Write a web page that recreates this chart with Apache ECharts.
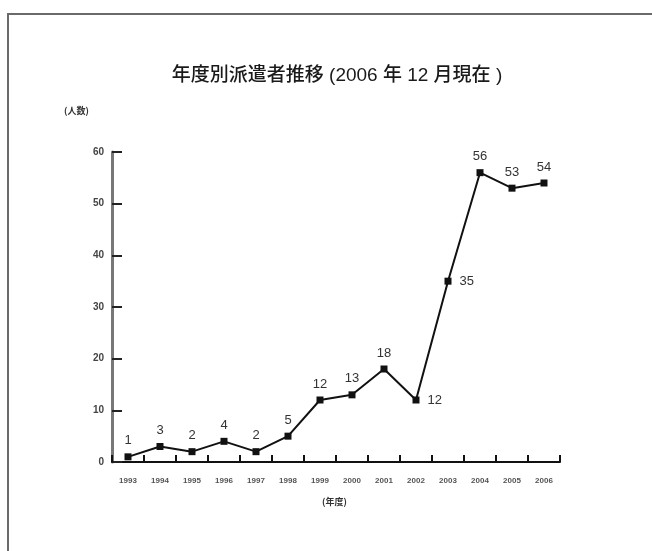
<!DOCTYPE html>
<html lang="ja">
<head>
    <meta charset="UTF-8">
    <title>年度別派遣者推移</title>
    <script src="https://cdn.jsdelivr.net/npm/echarts@6/dist/echarts.min.js"></script>
    <style>
        html, body { margin: 0; padding: 0; background: #fff; }
        #frame { position: absolute; left: 7px; top: 13px; width: 660px; height: 560px;
                 border-top: 2px solid #6a6a6a; border-left: 2px solid #6a6a6a; }
        #ChartId { position: absolute; left: 0; top: 0; width: 652px; height: 551px; }
    </style>
</head>
<body>
<div id="frame"></div>
<div id="ChartId"></div>
<script>
    // 年度
    var years = ['1993', '1994', '1995', '1996', '1997', '1998', '1999',
                 '2000', '2001', '2002', '2003', '2004', '2005', '2006'];
    // 派遣者数（人）
    var counts = [1, 3, 2, 4, 2, 5, 12, 13, 18, 12, 35, 56, 53, 54];
    // Y 軸目盛
    var yTicks = [0, 10, 20, 30, 40, 50, 60];

    var titleText = '年度別派遣者推移 (2006 年 12 月現在 )';
    var yName = '(人数)';
    var xName = '(年度)';

    // ラベルを右に出す年度
    var rightLabel = ['2002', '2003'];

    var jpFont = '"Noto Sans CJK JP", sans-serif';
    var mixFont = '"Liberation Sans", "Noto Sans CJK JP", sans-serif';

    var seriesData = counts.map(function (v, i) {
        var item = { value: v };
        if (rightLabel.indexOf(years[i]) >= 0) {
            item.label = { position: 'right', distance: 8 };
        }
        return item;
    });

    var myChart = echarts.init(document.getElementById('ChartId'));
    var option = {
        animation: false,
        backgroundColor: 'transparent',
        title: {
            text: titleText,
            left: 332,
            top: 61,
            textAlign: 'center',
            textStyle: { fontFamily: mixFont, fontSize: 19, fontWeight: 500, color: '#1a1a1a' }
        },
        graphic: [
            { type: 'text', left: 64, top: 106,
              style: { text: yName, fontFamily: jpFont, fontSize: 9, fontWeight: 'bold', fill: '#333' } },
            { type: 'text', left: 322, top: 497,
              style: { text: xName, fontFamily: jpFont, fontSize: 9, fontWeight: 'bold', fill: '#333' } }
        ],
        grid: { left: 112, right: 92, top: 152, bottom: 89 },
        xAxis: {
            type: 'category',
            data: years,
            boundaryGap: true,
            axisLine: { lineStyle: { color: '#111', width: 2 } },
            axisTick: { show: true, inside: true, length: 7, interval: 0,
                        lineStyle: { color: '#111', width: 2 } },
            axisLabel: { interval: 0, fontSize: 8, fontWeight: 'bold', color: '#555', margin: 15,
                         fontFamily: 'Liberation Sans, sans-serif' },
            splitLine: { show: false }
        },
        yAxis: {
            type: 'value',
            min: yTicks[0],
            max: yTicks[yTicks.length - 1],
            interval: 10,
            axisLine: { show: true, lineStyle: { color: '#777', width: 3 } },
            axisTick: { show: true, inside: true, length: 10,
                        lineStyle: { color: '#222', width: 2 } },
            axisLabel: { fontSize: 10, fontWeight: 'bold', color: '#444', margin: 8,
                         fontFamily: 'Liberation Sans, sans-serif' },
            splitLine: { show: false }
        },
        series: [{
            type: 'line',
            data: seriesData,
            symbol: 'rect',
            symbolSize: 7,
            itemStyle: { color: '#111' },
            lineStyle: { color: '#111', width: 2 },
            label: {
                show: true,
                position: 'top',
                distance: 6,
                fontSize: 13,
                color: '#333',
                fontFamily: 'Liberation Sans, sans-serif'
            }
        }]
    };
    myChart.setOption(option);
</script>
</body>
</html>
